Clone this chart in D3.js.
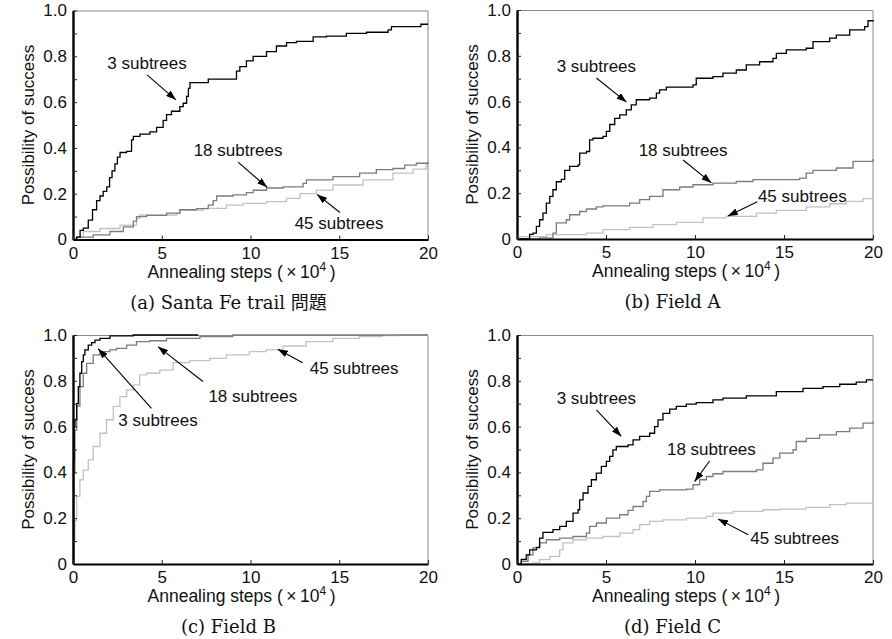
<!DOCTYPE html>
<html>
<head>
<meta charset="utf-8">
<script src="https://cdn.jsdelivr.net/npm/d3@7"></script>
<style>
    body { margin: 0; background: #fff; }
    svg { display: block; }
</style>
</head>
<body>
<svg id="fig" width="892" height="639"></svg>
<script>
//*************************************************
// Data: [steps (x10^4), possibility of success]
//*************************************************
var seriesNames = ['3 subtrees', '18 subtrees', '45 subtrees'];
var xTickValues = [0, 5, 10, 15, 20];
var yTickValues = [0, 0.1, 0.2, 0.3, 0.4, 0.5, 0.6, 0.7, 0.8, 0.9, 1.0];
var yTickLabels = { 0: '0', 0.2: '0.2', 0.4: '0.4', 0.6: '0.6', 0.8: '0.8', 1: '1.0' };
var captions = ['(a) Santa Fe trail 問題', '(b) Field A', '(c) Field B', '(d) Field C'];

// (a) Santa Fe trail
var santaFe3 = [[0,0],[0.2,0.01],[0.4,0.04],[0.58,0.05],[0.86,0.085],[1.1,0.13],[1.33,0.17],[1.52,0.19],[1.7,0.21],
    [1.9,0.23],[2.06,0.27],[2.2,0.3],[2.36,0.33],[2.5,0.36],[2.65,0.38],[3.02,0.385],[3.3,0.435],[3.4,0.45],[3.77,0.46],
    [4.33,0.47],[4.71,0.49],[5.08,0.52],[5.27,0.545],[5.55,0.56],[6.02,0.58],[6.21,0.595],[6.4,0.625],[6.5,0.66],
    [6.59,0.685],[7.62,0.70],[9.21,0.735],[9.4,0.755],[9.77,0.78],[10.15,0.80],[10.9,0.82],[11.46,0.845],[12.03,0.86],
    [12.59,0.865],[13.53,0.885],[14.28,0.888],[15.4,0.9],[16.53,0.905],[17.75,0.915],[17.94,0.93],[19.6,0.94],[20,0.94]];
var santaFe18 = [[0,0],[0.21,0.01],[1.14,0.02],[2.08,0.035],[2.83,0.055],[3.4,0.08],[3.58,0.1],[4.15,0.105],[5.27,0.115],
    [6.02,0.13],[6.96,0.135],[7.62,0.15],[7.9,0.17],[8.09,0.19],[9.02,0.195],[9.77,0.205],[10.15,0.215],[10.9,0.225],
    [11.84,0.23],[12.96,0.245],[13.15,0.26],[14.65,0.275],[16.15,0.29],[17.09,0.305],[18.03,0.31],[18.69,0.325],
    [19.34,0.333],[20,0.34]];
var santaFe45 = [[0,0],[0.21,0.01],[0.58,0.035],[1.52,0.048],[2.65,0.063],[3.58,0.092],[3.77,0.107],[5.83,0.114],
    [6.02,0.128],[7.34,0.136],[8.65,0.15],[9.59,0.158],[10.9,0.165],[12.03,0.18],[12.78,0.2],[13.71,0.216],[14.65,0.238],
    [16.34,0.26],[18.03,0.29],[19.16,0.307],[19.9,0.333],[20,0.333]];

// (b) Field A
var fieldA3 = [[0,0],[0.71,0.02],[0.9,0.026],[1.09,0.055],[1.27,0.084],[1.46,0.113],[1.65,0.157],[1.84,0.186],[2.02,0.215],
    [2.21,0.25],[2.49,0.26],[2.68,0.30],[2.96,0.317],[3.43,0.324],[3.52,0.375],[3.9,0.382],[4.08,0.433],[4.27,0.44],
    [4.83,0.448],[5.02,0.47],[5.21,0.5],[5.49,0.527],[5.77,0.542],[6.14,0.564],[6.42,0.586],[6.7,0.608],[7.45,0.615],
    [7.83,0.637],[8.01,0.651],[8.39,0.663],[9.89,0.673],[10.07,0.702],[11.01,0.709],[11.57,0.724],[12.32,0.738],
    [12.88,0.76],[13.63,0.774],[14.38,0.789],[14.57,0.811],[15.13,0.826],[16.25,0.833],[16.63,0.862],[17.57,0.877],
    [17.94,0.89],[18.69,0.913],[19.53,0.927],[19.72,0.953],[20,0.956]];
var fieldA18 = [[0,0],[1.27,0.005],[2.02,0.026],[2.21,0.07],[2.77,0.084],[2.96,0.106],[3.52,0.12],[3.9,0.131],[4.46,0.14],
    [4.83,0.145],[6.33,0.157],[6.89,0.172],[7.45,0.186],[8.2,0.215],[9.14,0.227],[9.89,0.237],[11.01,0.244],[12.32,0.251],
    [13.26,0.259],[15.88,0.266],[16.25,0.288],[16.63,0.3],[17.94,0.31],[18.88,0.339],[20,0.349]];
var fieldA45 = [[0,0.01],[1.65,0.019],[3.9,0.026],[4.83,0.041],[6.33,0.051],[7.64,0.063],[8.95,0.073],[10.45,0.092],
    [11.76,0.099],[13.45,0.113],[14.57,0.125],[16.25,0.14],[17.57,0.154],[18.5,0.164],[19.44,0.176],[20,0.179]];

// (c) Field B
var fieldB3 = [[0,0],[0.03,0.45],[0.06,0.6],[0.11,0.63],[0.21,0.70],[0.3,0.775],[0.39,0.833],[0.49,0.884],[0.58,0.913],
    [0.67,0.935],[0.86,0.956],[1.05,0.967],[1.24,0.978],[1.52,0.985],[2.08,0.996],[3.39,1.0],[7.05,1.0]];
var fieldB18 = [[0,0],[0.03,0.4],[0.11,0.585],[0.21,0.69],[0.39,0.775],[0.58,0.833],[0.77,0.876],[1.14,0.913],[1.52,0.927],
    [2.08,0.935],[2.45,0.942],[3.02,0.956],[3.58,0.971],[4.33,0.975],[5.27,0.985],[7.15,0.993],[9.0,1.0],[20,1.0]];
var fieldB45 = [[0,0],[0.03,0.106],[0.11,0.19],[0.21,0.295],[0.39,0.368],[0.58,0.41],[0.86,0.455],[1.14,0.513],[1.52,0.571],
    [1.89,0.63],[2.27,0.688],[2.64,0.731],[3.02,0.76],[3.39,0.782],[3.76,0.826],[4.14,0.833],[4.89,0.847],[5.64,0.879],
    [6.57,0.888],[7.7,0.898],[8.63,0.913],[9.94,0.927],[10.88,0.935],[11.82,0.952],[13.13,0.971],[14.63,0.985],
    [16.12,0.993],[17.43,0.997],[18.37,1.0],[20,1.0]];

// (d) Field C
var fieldC3 = [[0,0],[0.24,0.02],[0.52,0.04],[0.71,0.062],[1.09,0.073],[1.27,0.113],[1.46,0.138],[2.02,0.15],[2.4,0.164],
    [2.77,0.186],[3.15,0.222],[3.43,0.237],[3.52,0.28],[3.71,0.31],[3.99,0.339],[4.18,0.368],[4.46,0.397],[4.74,0.426],
    [5.02,0.448],[5.21,0.47],[5.39,0.498],[5.58,0.513],[6.24,0.52],[6.52,0.542],[6.89,0.557],[7.45,0.571],[7.73,0.6],
    [7.92,0.629],[8.2,0.658],[8.58,0.676],[8.95,0.688],[9.51,0.698],[10.07,0.705],[11.01,0.717],[11.57,0.724],
    [12.88,0.734],[14.57,0.753],[16.07,0.767],[17.19,0.775],[18.13,0.785],[19.06,0.794],[19.63,0.804],[20,0.804]];
var fieldC18 = [[0,0],[0.24,0.012],[0.62,0.04],[0.9,0.07],[1.27,0.092],[1.65,0.106],[2.4,0.113],[3.15,0.12],[3.9,0.135],
    [4.08,0.164],[4.46,0.179],[5.02,0.2],[5.77,0.215],[6.24,0.234],[6.52,0.251],[7.08,0.273],[7.27,0.295],[7.45,0.317],
    [8.01,0.324],[9.51,0.327],[9.89,0.346],[10.26,0.368],[10.64,0.382],[11.01,0.394],[11.57,0.404],[13.45,0.411],
    [13.82,0.44],[14.38,0.462],[14.76,0.484],[15.51,0.499],[15.69,0.535],[16.25,0.549],[17.0,0.564],[17.94,0.578],
    [18.69,0.593],[19.44,0.615],[20,0.622]];
var fieldC45 = [[0,0],[0.9,0.005],[1.27,0.019],[1.84,0.033],[2.4,0.062],[2.58,0.092],[3.15,0.106],[3.9,0.113],[4.83,0.12],
    [5.77,0.135],[6.52,0.15],[6.89,0.172],[7.45,0.186],[8.2,0.193],[9.51,0.2],[10.64,0.208],[11.01,0.222],[12.13,0.23],
    [13.82,0.237],[14.76,0.24],[16.25,0.247],[17.57,0.259],[18.5,0.266],[20,0.269]];

// annotation: label centre, arrow tail, arrow tip (data units)
var santaFeNotes = [[4.17,0.77, 4.17,0.719, 5.8,0.61], [9.3,0.39, 9.3,0.338, 10.93,0.228], [14.99,0.07, 15.04,0.118, 13.75,0.197]];
var fieldANotes  = [[4.46,0.757, 4.46,0.703, 6.15,0.598], [9.33,0.389, 9.33,0.345, 10.92,0.245], [16.03,0.188, 13.5,0.163, 11.85,0.1]];
var fieldBNotes  = [[4.79,0.629, 4.42,0.68, 1.42,0.94], [10.13,0.734, 7.32,0.797, 4.79,0.949], [15.84,0.857, 12.94,0.879, 11.54,0.938]];
var fieldCNotes  = [[4.46,0.724, 4.46,0.673, 5.86,0.557], [10.92,0.5, 10.82,0.45, 9.98,0.36], [15.6,0.113, 12.99,0.128, 11.29,0.197]];

//*************************************************
// Reusable panel
//*************************************************
d3.successPanel = function (){
    var _width = 356;
    var _height = 229;
    var _colors = ['#000000', '#7c7c7c', '#c2c2c2'];
    var _caption = '';

    function chart(selection){
        selection.each(function (data){
            var root = d3.select(this);
            var x = d3.scaleLinear().domain([0, 20]).range([0, _width]);
            var y = d3.scaleLinear().domain([0, 1]).range([_height, 0]);

            // top / right frame
            root.append('path')
                .attr('d', 'M0,0.5H' + _width + 'V' + _height)
                .attr('fill', 'none').attr('stroke', '#8a8a8a').attr('stroke-width', 1);

            //----------------------------------------------------------------------------------
            // curves, light ones first so black sits on top
            //----------------------------------------------------------------------------------
            var line = d3.line()
                .x(function (d){ return x(d[0]); })
                .y(function (d){ return y(d[1]); })
                .curve(d3.curveStepAfter);

            var order = [2, 1, 0];
            root.selectAll('.curve').data(order).enter().append('path')
                .attr('class', 'curve')
                .attr('d', function (k){ return line(data.series[k]); })
                .attr('fill', 'none')
                .attr('stroke', function (k){ return _colors[k]; })
                .attr('stroke-width', 1.3);

            // axes
            var yAxis = d3.axisLeft(y).tickValues(yTickValues).tickSizeInner(-4).tickSizeOuter(0).tickPadding(6)
                .tickFormat(function (d){ var k = Math.round(d * 10) / 10; return yTickLabels[k] !== undefined ? yTickLabels[k] : ''; });
            var xAxis = d3.axisBottom(x).tickValues(xTickValues).tickSizeInner(-4).tickSizeOuter(0).tickPadding(7);

            var gy = root.append('g').call(yAxis);
            gy.select('.domain').attr('stroke', '#000').attr('stroke-width', 2.4);
            var gx = root.append('g').attr('transform', 'translate(0,' + _height + ')').call(xAxis);
            gx.select('.domain').attr('stroke', '#000').attr('stroke-width', 1.8);
            root.selectAll('.tick text')
                .attr('font-family', 'Liberation Sans, Arial, sans-serif')
                .attr('font-size', 17).attr('fill', '#111');
            root.selectAll('.tick line').attr('stroke', '#222');

            // axis titles
            root.append('text')
                .attr('transform', 'translate(-45,' + (_height / 2) + ') rotate(-90)')
                .attr('dy', '0.35em').attr('text-anchor', 'middle')
                .attr('font-family', 'Liberation Sans, Arial, sans-serif').attr('font-size', 17).attr('fill', '#111')
                .text('Possibility of success');

            var xt = root.append('text')
                .attr('x', _width / 2 - 9).attr('y', _height + 38)
                .attr('text-anchor', 'middle')
                .attr('font-family', 'Liberation Sans, Arial, sans-serif').attr('font-size', 17.5).attr('fill', '#111');
            xt.append('tspan').text('Annealing steps (\u2009\u00d7\u200910');
            xt.append('tspan').attr('dy', -7).attr('font-size', 12).text('4');
            xt.append('tspan').attr('dy', 7).text('\u2009)');

            // caption
            root.append('text')
                .attr('x', 155.5).attr('y', 298)
                .attr('text-anchor', 'middle')
                .attr('font-family', 'DejaVu Serif, Noto Sans CJK JP, serif').attr('font-size', 18).attr('fill', '#111')
                .text(_caption);

            //----------------------------------------------------------------------------------
            // labels with arrows
            //----------------------------------------------------------------------------------
            var notes = root.selectAll('.note').data(data.notes).enter().append('g').attr('class', 'note');
            notes.append('text')
                .attr('x', function (d){ return x(d[0]); })
                .attr('y', function (d){ return y(d[1]); })
                .attr('dy', '0.35em').attr('text-anchor', 'middle')
                .attr('font-family', 'Liberation Sans, Arial, sans-serif').attr('font-size', 17).attr('fill', '#111')
                .text(function (d, i){ return seriesNames[i]; });
            notes.append('line')
                .attr('x1', function (d){ return x(d[2]); })
                .attr('y1', function (d){ return y(d[3]); })
                .attr('x2', function (d){ return x(d[4]); })
                .attr('y2', function (d){ return y(d[5]); })
                .attr('stroke', '#000').attr('stroke-width', 1.1)
                .attr('marker-end', 'url(#arrowHead)');
        });
    }

    chart.width = function (value){
        if (!arguments.length){ return _width; }
        _width = value;
        return chart;
    };
    chart.height = function (value){
        if (!arguments.length){ return _height; }
        _height = value;
        return chart;
    };
    chart.colors = function (arrayOfColors){
        if (!arguments.length){ return _colors; }
        _colors = arrayOfColors;
        return chart;
    };
    chart.caption = function (value){
        if (!arguments.length){ return _caption; }
        _caption = value;
        return chart;
    };

    return chart;
};

//*************************************************
// Draw the four panels
//*************************************************
var svg = d3.select('#fig');
svg.append('rect').attr('width', 892).attr('height', 639).attr('fill', '#fff');
svg.append('defs').append('marker')
    .attr('id', 'arrowHead')
    .attr('markerUnits', 'userSpaceOnUse')
    .attr('viewBox', '0 0 10 7')
    .attr('refX', 10).attr('refY', 3.5)
    .attr('markerWidth', 10).attr('markerHeight', 7)
    .attr('orient', 'auto')
    .append('path').attr('d', 'M0,0L10,3.5L0,7Z').attr('fill', '#000');

var panels = [
    { left: 73,  top: 10.5, series: [santaFe3, santaFe18, santaFe45], notes: santaFeNotes },
    { left: 517, top: 10,   series: [fieldA3, fieldA18, fieldA45],    notes: fieldANotes },
    { left: 73,  top: 335,  series: [fieldB3, fieldB18, fieldB45],    notes: fieldBNotes },
    { left: 517, top: 335,  series: [fieldC3, fieldC18, fieldC45],    notes: fieldCNotes }
];

panels.forEach(function (p, i){
    var panel = d3.successPanel().width(i % 2 ? 356 : 355).height(229).caption(captions[i]);
    svg.append('g')
        .attr('transform', 'translate(' + p.left + ',' + p.top + ')')
        .datum(p)
        .call(panel);
});
</script>
</body>
</html>
